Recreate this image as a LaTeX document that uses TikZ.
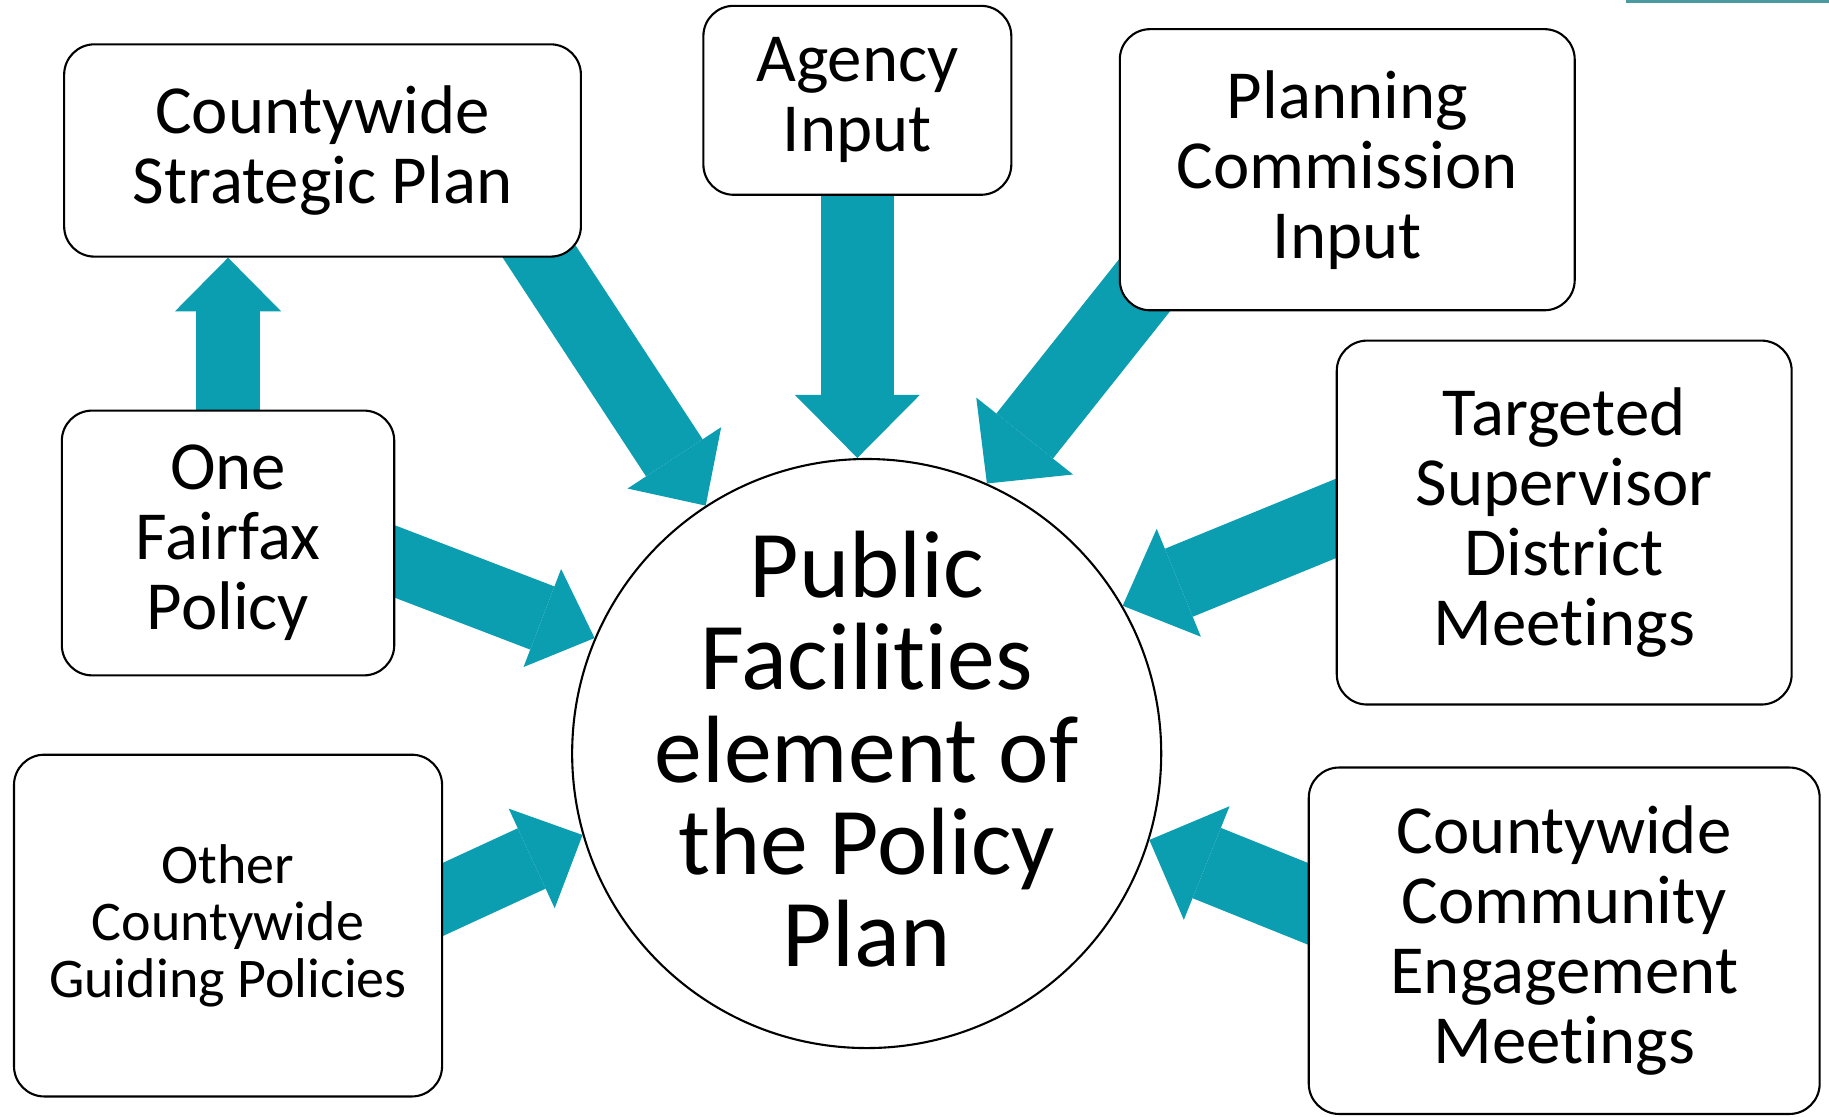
\documentclass[tikz,border=0pt]{standalone}
\usepackage{fontspec}
\setmainfont{Carlito}[Ligatures=CommonOff]
\usetikzlibrary{arrows.meta,backgrounds}
\definecolor{arrowteal}{RGB}{10,158,176}
\definecolor{barteal}{RGB}{74,154,160}
\newcommand{\mainfs}{\fontsize{59}{60}\selectfont\lineskiplimit-200pt\relax}
\newcommand{\smallfs}{\fontsize{48}{49}\selectfont\lineskiplimit-200pt\relax}
\newcommand{\hubfs}{\fontsize{82}{79}\selectfont\lineskiplimit-200pt\relax}
\begin{document}
\begin{tikzpicture}[x=1pt,y=-1pt,
  box/.style={draw=black, line width=1.8pt, fill=white, rounded corners=26pt,
    align=center, inner sep=0pt, font=\mainfs},
  smalltext/.style={font=\smallfs},
  hub/.style={circle, draw=black, line width=1.8pt, fill=white, inner sep=-40pt,
    align=center, font=\hubfs},
  blk/.style n args={3}{draw=arrowteal, line width=#1pt,
    -{Triangle[width=#2pt,length=#3pt,line width=0pt]}},
]
\path[use as bounding box] (0,0) rectangle (1568,957);

% nodes
\node[box, minimum width=443pt, minimum height=182pt] (csp) at (276.5,129) {Countywide\\Strategic Plan};
\node[box, minimum width=264pt, minimum height=162pt] (ai) at (735,86) {Agency\\Input};
\node[box, minimum width=390pt, minimum height=241pt] (pci) at (1155,145.5) {Planning\\Commission\\Input};
\node[box, minimum width=390pt, minimum height=312pt] (tsdm) at (1341,448) {Targeted\\Supervisor\\District\\Meetings};
\node[box, minimum width=438pt, minimum height=297pt] (ccem) at (1341,806.5) {Countywide\\Community\\Engagement\\Meetings};
\node[box, minimum width=285pt, minimum height=227pt] (ofp) at (195.5,465.5) {One\\Fairfax\\Policy};
\node[box, smalltext, minimum width=367pt, minimum height=293pt] (ocgp) at (195.5,793.5) {Other\\Countywide\\Guiding Policies};
\node[hub, minimum size=505pt, text depth=8pt] (pf) at (743,646) {Public\\Facilities\\element of\\the Policy\\Plan};

% tail points of the arrows (hidden under the boxes)
\coordinate (t2) at (429,165);
\coordinate (t4) at (1019,197);
\coordinate (t5) at (1183,429);
\coordinate (t6) at (1159,790);
\coordinate (t7) at (301,467);
\coordinate (t8) at (343,788);

\begin{scope}[on background layer]
  \draw[blk={55}{91}{46}] (ofp.north) -- (ofp.north |- csp.south);
  \draw[blk={58}{96}{49}] (t2) -- (pf.123);
  \draw[blk={63}{107}{54}] (ai.south) -- (ai.south |- pf.north);
  \draw[blk={62}{106}{52}] (t4) -- (pf.66);
  \draw[blk={63}{100}{52}] (t5) -- (pf.30);
  \draw[blk={65}{105}{53}] (t6) -- (pf.343);
  \draw[blk={58}{90}{48}] (t7) -- (pf.157);
  \draw[blk={57}{94}{48}] (t8) -- (pf.196);
\end{scope}

% accent bar, top right
\fill[barteal] (1394,0) rectangle (1568,3);
\end{tikzpicture}
\end{document}
